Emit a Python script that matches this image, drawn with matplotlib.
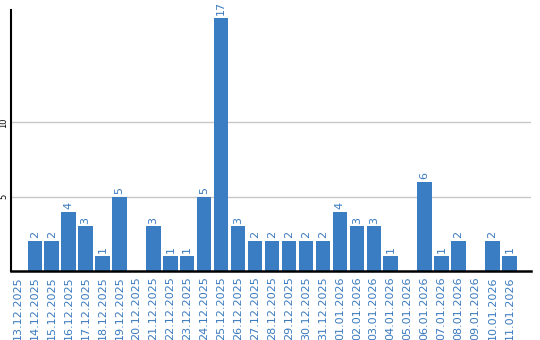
import matplotlib
matplotlib.use("Agg")
import matplotlib.pyplot as plt

dates = ["13.12.2025", "14.12.2025", "15.12.2025", "16.12.2025", "17.12.2025",
         "18.12.2025", "19.12.2025", "20.12.2025", "21.12.2025", "22.12.2025",
         "23.12.2025", "24.12.2025", "25.12.2025", "26.12.2025", "27.12.2025",
         "28.12.2025", "29.12.2025", "30.12.2025", "31.12.2025", "01.01.2026",
         "02.01.2026", "03.01.2026", "04.01.2026", "05.01.2026", "06.01.2026",
         "07.01.2026", "08.01.2026", "09.01.2026", "10.01.2026", "11.01.2026"]
values = [0, 2, 2, 4, 3, 1, 5, 0, 3, 1, 1, 5, 17, 3, 2, 2, 2, 2, 2, 4,
          3, 3, 1, 0, 6, 1, 2, 0, 2, 1]
ytick_values = [5, 10]

bar_color = "#3a7dc2"
text_color = "#3a7abf"

fig = plt.figure(figsize=(5.4, 3.4), dpi=100)
ax = fig.add_axes([11/540, 69/340, (530.7-11)/540, (330-69)/340])

x = list(range(len(dates)))
ax.bar(x, values, width=0.85, color=bar_color, zorder=3)

for xi, v in zip(x, values):
    if v > 0:
        ax.annotate(str(v), (xi, v), xytext=(0, 2), textcoords="offset points",
                    rotation=90, ha="center", va="bottom", color=text_color,
                    fontsize=8)

ax.set_xlim(-0.4, 30.26)
ax.set_ylim(0, 17.55)

ax.set_yticks(ytick_values)
ax.set_yticklabels([str(t) for t in ytick_values], rotation=90, fontsize=6,
                   va="center", color="black")
ax.tick_params(axis="y", length=0, pad=2)
ax.grid(axis="y", color="#c8c8c8", linewidth=1, zorder=0)

ax.set_xticks(x)
ax.set_xticklabels(dates, rotation=90, fontsize=8, color=text_color)
ax.tick_params(axis="x", length=0, pad=4)

for s in ["top", "right"]:
    ax.spines[s].set_visible(False)
ax.spines["left"].set_linewidth(1.5)
ax.spines["left"].set_color("black")
ax.spines["bottom"].set_linewidth(1.8)
ax.spines["bottom"].set_color("black")
ax.spines["bottom"].set_zorder(4)

fig.savefig("out.png", dpi=100)
